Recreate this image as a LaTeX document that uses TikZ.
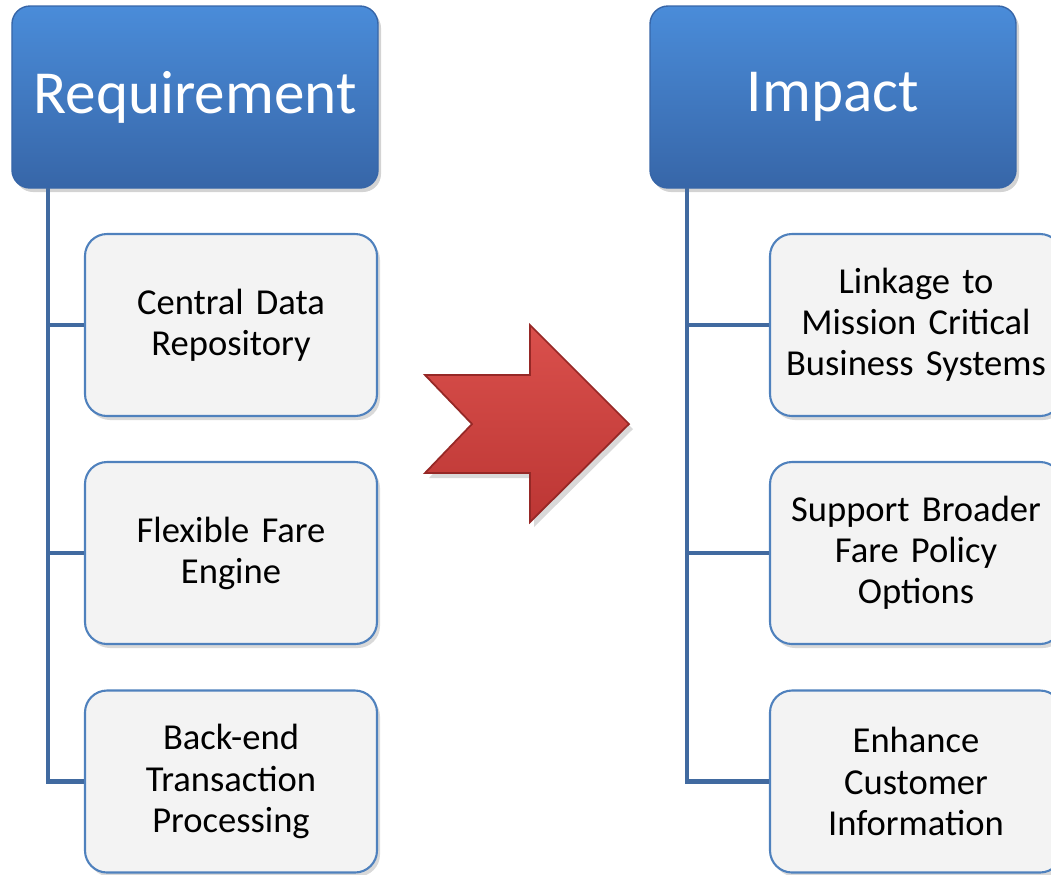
\documentclass[tikz,border=0pt]{standalone}
\usepackage{fontspec}
\setmainfont{Carlito}
\usetikzlibrary{shadows}

\definecolor{headtop}{RGB}{74,140,217}
\definecolor{headbot}{RGB}{55,102,168}
\definecolor{boxline}{RGB}{79,129,189}
\definecolor{boxfill}{RGB}{243,243,243}
\definecolor{trunk}{RGB}{65,106,160}
\definecolor{arrtop}{RGB}{218,80,76}
\definecolor{arrbot}{RGB}{188,54,52}
\definecolor{arrline}{RGB}{150,40,38}

\tikzset{
  head/.style={shape=rectangle,rounded corners=0.18cm,minimum width=3.66cm,minimum height=1.82cm,
    top color=headtop,bottom color=headbot,draw=headbot,line width=0.4pt,text=white,
    font=\fontsize{17.4}{20}\selectfont,
    drop shadow={opacity=0.35,shadow xshift=0.03cm,shadow yshift=-0.04cm}},
  item/.style={shape=rectangle,rounded corners=0.22cm,minimum width=2.92cm,minimum height=1.82cm,
    fill=boxfill,draw=boxline,line width=0.6pt,inner sep=0pt,text width=2.92cm,align=center,
    font=\fontsize{10.4}{11.7}\selectfont,
    drop shadow={opacity=0.3,shadow xshift=0.03cm,shadow yshift=-0.04cm}},
  link/.style={draw=trunk,line width=1.2pt}
}

\begin{document}
\begin{tikzpicture}
    \useasboundingbox (0,0) rectangle (10.51,-8.74);
    % left column
    \node[head] (R) at (1.95,-0.97) {Requirement};
    \node[item] (R1) at (2.31,-3.25) {Central Data\\Repository};
    \node[item] (R2) at (2.31,-5.53) {Flexible Fare\\Engine};
    \node[item] (R3) at (2.31,-7.815) {Back-end\\Transaction\\Processing};
    % right column
    \node[head] (I) at (8.33,-0.97) {Impact};
    \node[item] (I1) at (9.16,-3.25) {Linkage to\\Mission Critical\\Business Systems};
    \node[item] (I2) at (9.16,-5.53) {Support Broader\\Fare Policy\\Options};
    \node[item] (I3) at (9.16,-7.815) {Enhance\\Customer\\Information};
    % trunks
    \coordinate (Rt) at (0.48,-1.88);
    \coordinate (It) at (6.87,-1.88);
    \path[link] (Rt) -- (Rt |- R3.west) -- (R3.west);
    \path[link] (Rt |- R1.west) -- (R1.west);
    \path[link] (Rt |- R2.west) -- (R2.west);
    \path[link] (It) -- (It |- I3.west) -- (I3.west);
    \path[link] (It |- I1.west) -- (I1.west);
    \path[link] (It |- I2.west) -- (I2.west);
    % big arrow
    \draw[arrline,line width=0.5pt,line join=miter,top color=arrtop,bottom color=arrbot,
      drop shadow={opacity=0.3,shadow xshift=0.04cm,shadow yshift=-0.05cm}]
      (4.25,-3.75) -- (5.30,-3.75) -- (5.30,-3.25) -- (6.29,-4.24) -- (5.30,-5.22)
      -- (5.30,-4.73) -- (4.25,-4.73) -- (4.72,-4.24) -- cycle;
\end{tikzpicture}
\end{document}
